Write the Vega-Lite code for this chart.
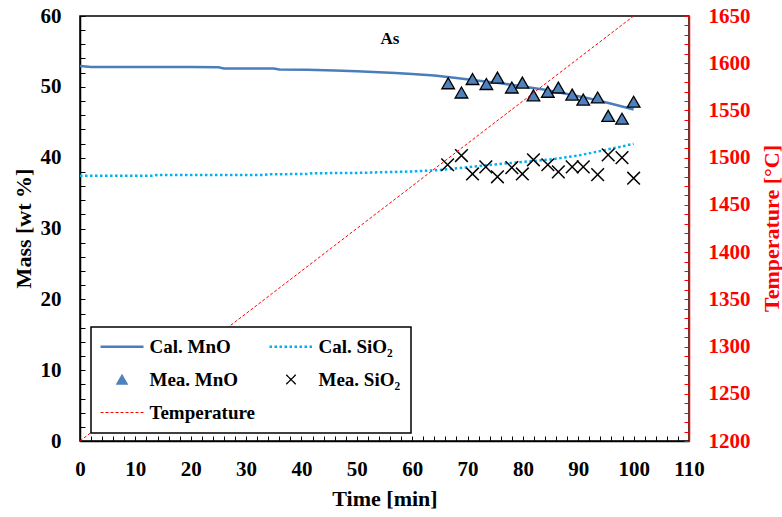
{
  "$schema": "https://vega.github.io/schema/vega-lite/v6.json",
  "autosize": {"type": "none"},
  "padding": {"left": 80, "top": 16, "right": 93, "bottom": 76},
  "width": 609,
  "height": 425,
  "background": "white",
  "view": {"stroke": "black", "strokeWidth": 1.5},
  "config": {"axis": {"labelOverlap": false, "labelFlush": false}},
  "datasets": {
    "cal": [
      {"t": 0, "v": 52.95, "series": "Cal. MnO"},
      {"t": 2, "v": 52.8, "series": "Cal. MnO"},
      {"t": 10, "v": 52.8, "series": "Cal. MnO"},
      {"t": 20, "v": 52.8, "series": "Cal. MnO"},
      {"t": 25, "v": 52.75, "series": "Cal. MnO"},
      {"t": 26, "v": 52.6, "series": "Cal. MnO"},
      {"t": 35, "v": 52.6, "series": "Cal. MnO"},
      {"t": 36, "v": 52.45, "series": "Cal. MnO"},
      {"t": 41, "v": 52.4, "series": "Cal. MnO"},
      {"t": 46, "v": 52.3, "series": "Cal. MnO"},
      {"t": 50, "v": 52.2, "series": "Cal. MnO"},
      {"t": 54, "v": 52.05, "series": "Cal. MnO"},
      {"t": 57, "v": 51.95, "series": "Cal. MnO"},
      {"t": 60, "v": 51.8, "series": "Cal. MnO"},
      {"t": 64, "v": 51.6, "series": "Cal. MnO"},
      {"t": 68, "v": 51.25, "series": "Cal. MnO"},
      {"t": 72, "v": 50.85, "series": "Cal. MnO"},
      {"t": 76, "v": 50.5, "series": "Cal. MnO"},
      {"t": 80, "v": 50.05, "series": "Cal. MnO"},
      {"t": 84, "v": 49.6, "series": "Cal. MnO"},
      {"t": 88, "v": 49.0, "series": "Cal. MnO"},
      {"t": 92, "v": 48.35, "series": "Cal. MnO"},
      {"t": 96, "v": 47.6, "series": "Cal. MnO"},
      {"t": 100, "v": 46.8, "series": "Cal. MnO"},
      {"t": 0, "v": 37.45, "series": "Cal. SiO₂"},
      {"t": 13, "v": 37.45, "series": "Cal. SiO₂"},
      {"t": 14, "v": 37.55, "series": "Cal. SiO₂"},
      {"t": 33, "v": 37.55, "series": "Cal. SiO₂"},
      {"t": 34, "v": 37.65, "series": "Cal. SiO₂"},
      {"t": 41, "v": 37.7, "series": "Cal. SiO₂"},
      {"t": 42, "v": 37.8, "series": "Cal. SiO₂"},
      {"t": 50, "v": 37.85, "series": "Cal. SiO₂"},
      {"t": 55, "v": 37.95, "series": "Cal. SiO₂"},
      {"t": 60, "v": 38.05, "series": "Cal. SiO₂"},
      {"t": 65, "v": 38.25, "series": "Cal. SiO₂"},
      {"t": 70, "v": 38.65, "series": "Cal. SiO₂"},
      {"t": 75, "v": 39.05, "series": "Cal. SiO₂"},
      {"t": 80, "v": 39.4, "series": "Cal. SiO₂"},
      {"t": 85, "v": 39.75, "series": "Cal. SiO₂"},
      {"t": 90, "v": 40.3, "series": "Cal. SiO₂"},
      {"t": 95, "v": 41.1, "series": "Cal. SiO₂"},
      {"t": 100, "v": 41.95, "series": "Cal. SiO₂"}
    ],
    "mea": [
      {"t": 66.5, "v": 50.5, "series": "Mea. MnO"},
      {"t": 68.9, "v": 49.2, "series": "Mea. MnO"},
      {"t": 70.9, "v": 51.1, "series": "Mea. MnO"},
      {"t": 73.4, "v": 50.4, "series": "Mea. MnO"},
      {"t": 75.4, "v": 51.3, "series": "Mea. MnO"},
      {"t": 78.0, "v": 49.9, "series": "Mea. MnO"},
      {"t": 79.9, "v": 50.6, "series": "Mea. MnO"},
      {"t": 81.9, "v": 48.8, "series": "Mea. MnO"},
      {"t": 84.5, "v": 49.3, "series": "Mea. MnO"},
      {"t": 86.4, "v": 49.9, "series": "Mea. MnO"},
      {"t": 88.9, "v": 48.9, "series": "Mea. MnO"},
      {"t": 90.9, "v": 48.2, "series": "Mea. MnO"},
      {"t": 93.5, "v": 48.5, "series": "Mea. MnO"},
      {"t": 95.4, "v": 45.9, "series": "Mea. MnO"},
      {"t": 97.9, "v": 45.5, "series": "Mea. MnO"},
      {"t": 100, "v": 47.9, "series": "Mea. MnO"},
      {"t": 66.4, "v": 39.0, "series": "Mea. SiO₂"},
      {"t": 68.9, "v": 40.3, "series": "Mea. SiO₂"},
      {"t": 70.9, "v": 37.7, "series": "Mea. SiO₂"},
      {"t": 73.3, "v": 38.7, "series": "Mea. SiO₂"},
      {"t": 75.4, "v": 37.3, "series": "Mea. SiO₂"},
      {"t": 78.0, "v": 38.6, "series": "Mea. SiO₂"},
      {"t": 79.9, "v": 37.7, "series": "Mea. SiO₂"},
      {"t": 81.9, "v": 39.7, "series": "Mea. SiO₂"},
      {"t": 84.5, "v": 39.0, "series": "Mea. SiO₂"},
      {"t": 86.4, "v": 38.0, "series": "Mea. SiO₂"},
      {"t": 88.9, "v": 38.7, "series": "Mea. SiO₂"},
      {"t": 90.9, "v": 38.7, "series": "Mea. SiO₂"},
      {"t": 93.5, "v": 37.6, "series": "Mea. SiO₂"},
      {"t": 95.4, "v": 40.4, "series": "Mea. SiO₂"},
      {"t": 97.9, "v": 40.0, "series": "Mea. SiO₂"},
      {"t": 100, "v": 37.1, "series": "Mea. SiO₂"}
    ],
    "temp": [
      {"t": 0, "temp": 1200, "series": "Temperature"},
      {"t": 100, "temp": 1650, "series": "Temperature"}
    ],
    "annot": [
      {"t": 56, "v": 56.8, "label": "As"}
    ]
  },
  "encoding": {
    "x": {
      "field": "t", "type": "quantitative",
      "scale": {"domain": [0, 110], "nice": false, "zero": false},
      "axis": {
        "title": "Time [min]",
        "values": [0,2,4,6,8,10,12,14,16,18,20,22,24,26,28,30,32,34,36,38,40,42,44,46,48,50,52,54,56,58,60,62,64,66,68,70,72,74,76,78,80,82,84,86,88,90,92,94,96,98,100,102,104,106,108,110],
        "labelExpr": "datum.value % 10 === 0 ? datum.label : ''",
        "labelOverlap": false, "labelFlush": false,
        "grid": false, "tickSize": -5, "tickColor": "black", "tickWidth": 1,
        "domainColor": "black", "domainWidth": 1.5,
        "labelPadding": 22, "labelFont": "Liberation Serif", "labelFontSize": 21, "labelFontWeight": "bold", "labelColor": "black",
        "titleFont": "Liberation Serif", "titleFontSize": 22, "titleFontWeight": "bold", "titleColor": "black",
        "titleBaseline": "alphabetic", "titleY": 64
      }
    }
  },
  "layer": [
    {
      "encoding": {
        "y": {
          "field": "v", "type": "quantitative",
          "scale": {"domain": [0, 60], "nice": false},
          "axis": {
            "title": "Mass [wt %]",
            "values": [0,2,4,6,8,10,12,14,16,18,20,22,24,26,28,30,32,34,36,38,40,42,44,46,48,50,52,54,56,58,60],
            "labelExpr": "datum.value % 10 === 0 ? datum.label : ''",
            "labelOverlap": false, "labelFlush": false,
            "grid": false, "tickSize": -5, "tickColor": "black", "tickWidth": 1,
            "domainColor": "black", "domainWidth": 1.5,
            "labelPadding": 24, "labelFont": "Liberation Serif", "labelFontSize": 21, "labelFontWeight": "bold", "labelColor": "black",
            "titleFont": "Liberation Serif", "titleFontSize": 22, "titleFontWeight": "bold", "titleColor": "black",
            "titleAngle": 270, "titleBaseline": "middle", "titleX": -57, "titleY": 212
          }
        },
        "color": {
          "field": "series", "type": "nominal",
          "scale": {
            "domain": ["Cal. MnO", "Cal. SiO₂", "Mea. MnO", "Mea. SiO₂", "Temperature"],
            "range": ["#4a7ebb", "#00b0f0", "#4f81bd", "#000000", "#ff0000"]
          },
          "legend": {
            "title": null,
            "orient": "none", "legendX": 11, "legendY": 311,
            "direction": "horizontal", "columns": 2,
            "strokeColor": "black", "fillColor": "white", "padding": 10,
            "symbolType": "stroke",
            "labelFont": "Liberation Serif", "labelFontSize": 19, "labelFontWeight": "bold", "labelColor": "black",
            "symbolOffset": 11.5, "labelOffset": 18, "columnPadding": 8, "rowPadding": 13,
            "encode": {
              "legend": {"update": {"strokeWidth": {"value": 1.5}}},
              "symbols": {
                "update": {
                  "shape": {"signal": "datum.value === 'Mea. MnO' ? 'triangle-up' : (datum.value === 'Mea. SiO₂' ? 'M-1,-1L1,1M-1,1L1,-1' : 'stroke')"},
                  "size": {"signal": "datum.value === 'Mea. MnO' ? 110 : (datum.value === 'Mea. SiO₂' ? 90 : 1849)"},
                  "fill": {"signal": "datum.value === 'Mea. MnO' ? '#4f81bd' : 'transparent'"},
                  "stroke": {"signal": "datum.value === 'Cal. MnO' ? '#4a7ebb' : (datum.value === 'Cal. SiO₂' ? '#00b0f0' : (datum.value === 'Temperature' ? '#ff0000' : '#000000'))"},
                  "strokeWidth": {"signal": "datum.value === 'Temperature' ? 1 : (datum.value === 'Mea. MnO' ? 1.2 : (datum.value === 'Mea. SiO₂' ? 1.3 : 2.5))"},
                  "strokeDash": {"signal": "datum.value === 'Cal. SiO₂' ? [2.5, 2.5] : (datum.value === 'Temperature' ? [3, 2] : [1, 0])"},
                  "opacity": {"value": 1}
                }
              }
            }
          }
        }
      },
      "layer": [
        {
          "data": {"name": "cal"},
          "transform": [{"filter": "datum.series === 'Cal. MnO'"}],
          "mark": {"type": "line", "strokeWidth": 2.5, "clip": true}
        },
        {
          "data": {"name": "cal"},
          "transform": [{"filter": "datum.series === 'Cal. SiO₂'"}],
          "mark": {"type": "line", "strokeWidth": 2.5, "strokeDash": [2.5, 2.5], "clip": true}
        },
        {
          "data": {"name": "mea"},
          "transform": [{"filter": "datum.series === 'Mea. MnO'"}],
          "mark": {"type": "point", "shape": "triangle-up", "filled": true, "stroke": "black", "strokeWidth": 1.3, "size": 160, "opacity": 1}
        },
        {
          "data": {"name": "mea"},
          "transform": [{"filter": "datum.series === 'Mea. SiO₂'"}],
          "mark": {"type": "point", "shape": "M-1,-1L1,1M-1,1L1,-1", "filled": false, "strokeWidth": 1.5, "size": 160, "opacity": 1}
        },
        {
          "data": {"name": "annot"},
          "mark": {"type": "text", "font": "Liberation Serif", "fontSize": 17, "fontWeight": "bold", "baseline": "middle", "align": "center", "color": "black"},
          "encoding": {
            "text": {"field": "label"},
            "color": {"value": "black"}
          }
        }
      ]
    },
    {
      "data": {"name": "temp"},
      "mark": {"type": "line", "strokeWidth": 1, "strokeDash": [3, 2], "clip": true},
      "encoding": {
        "y": {
          "field": "temp", "type": "quantitative",
          "scale": {"domain": [1200, 1650], "nice": false, "zero": false},
          "axis": {
            "orient": "right",
            "title": "Temperature [°C]",
            "format": "d",
            "values": [1200,1210,1220,1230,1240,1250,1260,1270,1280,1290,1300,1310,1320,1330,1340,1350,1360,1370,1380,1390,1400,1410,1420,1430,1440,1450,1460,1470,1480,1490,1500,1510,1520,1530,1540,1550,1560,1570,1580,1590,1600,1610,1620,1630,1640,1650],
            "labelExpr": "datum.value % 50 === 0 ? datum.label : ''",
            "labelOverlap": false, "labelFlush": false,
            "grid": false, "tickSize": -5, "tickColor": "#ff0000", "tickWidth": 1,
            "domainColor": "#ff0000", "domainWidth": 1.5,
            "labelPadding": 24, "labelFont": "Liberation Serif", "labelFontSize": 21, "labelFontWeight": "bold", "labelColor": "#ff0000",
            "titleFont": "Liberation Serif", "titleFontSize": 22, "titleFontWeight": "bold", "titleColor": "#ff0000",
            "titleAngle": 270, "titleBaseline": "middle", "titleX": 82, "titleY": 212
          }
        },
        "color": {"field": "series", "type": "nominal"}
      }
    }
  ],
  "resolve": {"scale": {"y": "independent"}}
}
